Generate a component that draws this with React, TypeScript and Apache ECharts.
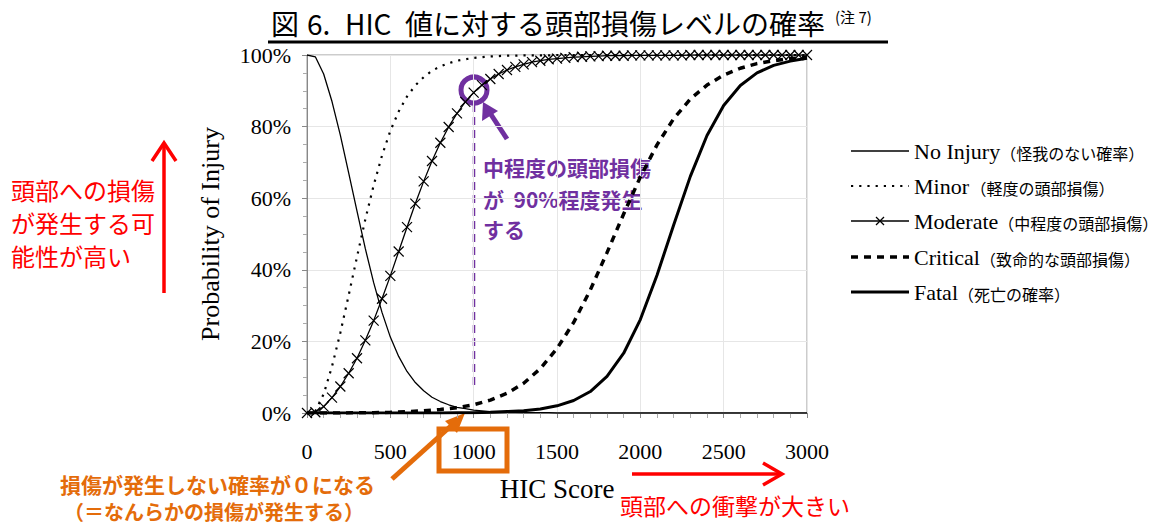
import React, { useEffect, useRef } from "react";
import * as echarts from "echarts";

// HIC score sampling points
const hic50 = [
  0, 50, 100, 150, 200, 250, 300, 350, 400, 450, 500, 550, 600, 650, 700, 750,
  800, 850, 900, 950, 1000, 1050, 1100, 1150, 1200, 1250, 1300, 1350, 1400,
  1450, 1500, 1550, 1600, 1650, 1700, 1750, 1800, 1850, 1900, 1950, 2000, 2050,
  2100, 2150, 2200, 2250, 2300, 2350, 2400, 2450, 2500, 2550, 2600, 2650, 2700,
  2750, 2800, 2850, 2900, 2950, 3000,
];
const hic100 = [
  0, 100, 200, 300, 400, 500, 600, 700, 800, 900, 1000, 1100, 1200, 1300, 1400,
  1500, 1600, 1700, 1800, 1900, 2000, 2100, 2200, 2300, 2400, 2500, 2600, 2700,
  2800, 2900, 3000,
];

// Probability (%)
const noInjury = [
  100, 99.5, 94.7, 87.0, 77.6, 67.1, 56.4, 45.9, 36.4, 28.1, 21.2, 15.8, 11.6,
  8.5, 6.2, 4.4, 3.2, 2.3, 1.6, 1.2, 0.8, 0.6, 0.4, 0.3, 0.2, 0.2, 0.1, 0.1, 0.1,
  0.1, 0, 0, 0, 0, 0, 0, 0, 0, 0, 0, 0, 0, 0, 0, 0, 0, 0, 0, 0, 0, 0, 0, 0, 0,
  0, 0, 0, 0, 0, 0, 0,
];
const minor = [
  0, 0.5, 5.3, 13.0, 22.4, 32.9, 43.6, 54.1, 63.6, 71.9, 78.8, 84.2, 88.4, 91.5,
  93.8, 95.6, 96.8, 97.7, 98.4, 98.8, 99.2, 99.4, 99.6, 99.7, 99.8, 99.8, 99.9,
  99.9, 99.9, 99.9, 100, 100, 100, 100, 100, 100, 100, 100, 100, 100, 100, 100,
  100, 100, 100, 100, 100, 100, 100, 100, 100, 100, 100, 100, 100, 100, 100,
  100, 100, 100, 100,
];
const moderate = [
  0, 0.2, 1.8, 4.3, 7.4, 11.1, 15.3, 20.3, 25.8, 31.9, 38.3, 45.1, 51.9, 58.5,
  64.7, 70.4, 75.5, 79.9, 83.7, 86.9, 89.5, 91.6, 93.3, 94.7, 95.8, 96.7, 97.4,
  98.0, 98.4, 98.8, 99.0, 99.2, 99.4, 99.5, 99.6, 99.7, 99.8, 99.8, 99.8, 99.9,
  99.9, 99.9, 99.9, 99.9, 99.9, 99.9, 100, 100, 100, 100, 100, 100, 100, 100,
  100, 100, 100, 100, 100, 100, 100,
];
const critical = [
  0, 0, 0, 0.1, 0.1, 0.2, 0.4, 0.6, 1.0, 1.5, 2.3, 3.6, 5.5, 8.3, 12.4, 18.0,
  25.3, 34.4, 44.8, 55.6, 65.9, 74.9, 82.2, 87.7, 91.6, 94.4, 96.3, 97.6, 98.4,
  99.0, 99.3,
];
const fatal = [
  0, 0, 0, 0, 0, 0, 0, 0, 0, 0.1, 0.1, 0.2, 0.4, 0.6, 1.1, 2.0, 3.5, 6.0, 10.2,
  16.7, 26.1, 38.5, 52.5, 66.1, 77.5, 85.9, 91.5, 95.0, 97.1, 98.3, 99.1,
];

const legendNames = ["No Injury", "Minor", "Moderate", "Critical", "Fatal"];
const legendNotes = [
  "（怪我のない確率）",
  "（軽度の頭部損傷）",
  "（中程度の頭部損傷）",
  "（致命的な頭部損傷）",
  "（死亡の確率）",
];

const SERIF = "'Liberation Serif', 'Times New Roman', serif";
const CJK = "'Noto Sans CJK JP', sans-serif";
const RED = "#ff0000";
const ORANGE = "#e46c0a";
const PURPLE = "#7030a0";

function pairs(xs: number[], ys: number[]) {
  return xs.map((x, i) => [x, ys[i]]);
}

export default function App() {
  const ref = useRef<HTMLDivElement>(null);

  useEffect(() => {
    if (!ref.current) return;
    const chart = echarts.init(ref.current, null, { renderer: "svg" });

    const legendY = [151, 186, 221, 257, 292];
    const legendGraphics: any[] = [];
    legendY.forEach((y, i) => {
      legendGraphics.push({
        type: "text",
        x: 914,
        y,
        style: {
          text: `{a|${legendNames[i]}}${i === 1 ? "{g| }" : ""}{b|${legendNotes[i]}}`,
          align: "left",
          verticalAlign: "middle",
          rich: {
            a: { fontFamily: SERIF, fontSize: 22, color: "#000", verticalAlign: "middle" },
            g: { fontFamily: SERIF, fontSize: 6, color: "#000", verticalAlign: "middle" },
            b: { fontFamily: CJK, fontSize: 16, color: "#333", verticalAlign: "middle", padding: [3, 0, 0, 0] },
          },
        },
      });
    });
    // legend line samples
    legendGraphics.push(
      { type: "line", shape: { x1: 851, y1: legendY[0], x2: 909, y2: legendY[0] }, style: { stroke: "#000", lineWidth: 1.3 } },
      { type: "line", shape: { x1: 851, y1: legendY[1], x2: 909, y2: legendY[1] }, style: { stroke: "#000", lineWidth: 2.2, lineDash: [2.2, 6] } },
      { type: "line", shape: { x1: 851, y1: legendY[2], x2: 909, y2: legendY[2] }, style: { stroke: "#000", lineWidth: 1.3 } },
      { type: "line", shape: { x1: 876, y1: legendY[2] - 4, x2: 884, y2: legendY[2] + 4 }, style: { stroke: "#000", lineWidth: 1.3 } },
      { type: "line", shape: { x1: 876, y1: legendY[2] + 4, x2: 884, y2: legendY[2] - 4 }, style: { stroke: "#000", lineWidth: 1.3 } },
      { type: "line", shape: { x1: 851, y1: legendY[3], x2: 909, y2: legendY[3] }, style: { stroke: "#000", lineWidth: 3.5, lineDash: [7, 6] } },
      { type: "line", shape: { x1: 851, y1: legendY[4], x2: 909, y2: legendY[4] }, style: { stroke: "#000", lineWidth: 3 } }
    );

    const titleGraphics: any[] = [
      { type: "text", x: 271, y: 23, style: { text: "図", font: `28px ${CJK}`, fill: "#000", align: "left", verticalAlign: "middle" } },
      { type: "text", x: 307, y: 23, style: { text: "6.", font: `28px ${CJK}`, fill: "#000", align: "left", verticalAlign: "middle" } },
      { type: "text", x: 345, y: 23, style: { text: "HIC", font: `28px ${CJK}`, fill: "#000", align: "left", verticalAlign: "middle" } },
      { type: "text", x: 405, y: 23, style: { text: "値に対する頭部損傷レベルの確率", font: `28px ${CJK}`, fill: "#000", align: "left", verticalAlign: "middle" } },
      { type: "text", x: 835, y: 16, style: { text: "(注 7)", font: `15px ${CJK}`, fill: "#000", align: "left", verticalAlign: "middle" } },
      { type: "rect", shape: { x: 268, y: 40.5, width: 620, height: 3 }, style: { fill: "#000" } },
    ];

    const annoGraphics: any[] = [
      // left red annotation
      { type: "text", x: 11, y: 189, style: { text: "頭部への損傷", font: `24px ${CJK}`, fill: RED, align: "left", verticalAlign: "middle" } },
      { type: "text", x: 11, y: 222, style: { text: "が発生する可", font: `24px ${CJK}`, fill: RED, align: "left", verticalAlign: "middle" } },
      { type: "text", x: 11, y: 255, style: { text: "能性が高い", font: `24px ${CJK}`, fill: RED, align: "left", verticalAlign: "middle" } },
      { type: "line", shape: { x1: 164, y1: 293, x2: 164, y2: 144 }, style: { stroke: RED, lineWidth: 3.5 } },
      { type: "polyline", shape: { points: [[152, 161], [164, 143], [176, 161]] }, style: { stroke: RED, lineWidth: 3.5, fill: "none" } },
      // bottom red annotation
      { type: "line", shape: { x1: 632, y1: 474, x2: 781, y2: 474 }, style: { stroke: RED, lineWidth: 3.5 } },
      { type: "polyline", shape: { points: [[763, 463], [782, 474], [763, 485]] }, style: { stroke: RED, lineWidth: 3.5, fill: "none" } },
      { type: "text", x: 620, y: 505, style: { text: "頭部への衝撃が大きい", font: `23px ${CJK}`, fill: RED, align: "left", verticalAlign: "middle" } },
      // orange annotation
      { type: "rect", shape: { x: 439, y: 429, width: 68, height: 42 }, style: { stroke: ORANGE, lineWidth: 5, fill: "none" } },
      { type: "line", shape: { x1: 392, y1: 479, x2: 452, y2: 425 }, style: { stroke: ORANGE, lineWidth: 5 } },
      { type: "polygon", shape: { points: [[465, 413], [445, 421], [457, 433]] }, style: { fill: ORANGE } },
      { type: "text", x: 60, y: 484, style: { text: "損傷が発生しない確率が０になる", font: `bold 21px ${CJK}`, fill: ORANGE, align: "left", verticalAlign: "middle" } },
      { type: "text", x: 64, y: 511, style: { text: "（＝なんらかの損傷が発生する）", font: `bold 20px ${CJK}`, fill: ORANGE, align: "left", verticalAlign: "middle" } },
      // purple annotation
      { type: "line", shape: { x1: 474, y1: 104, x2: 474, y2: 389 }, style: { stroke: PURPLE, lineWidth: 2.5, lineDash: [8, 5] } },
      { type: "circle", shape: { cx: 474, cy: 90, r: 13 }, style: { stroke: PURPLE, lineWidth: 5, fill: "none" } },
      { type: "line", shape: { x1: 507, y1: 139, x2: 490, y2: 113 }, style: { stroke: PURPLE, lineWidth: 5 } },
      { type: "polygon", shape: { points: [[483, 102], [482, 121], [498, 111]] }, style: { fill: PURPLE } },
      { type: "text", x: 483, y: 167, style: { text: "中程度の頭部損傷", font: `bold 21px ${CJK}`, fill: PURPLE, align: "left", verticalAlign: "middle" } },
      { type: "text", x: 483, y: 199, style: { text: "が  90%程度発生", font: `bold 21px ${CJK}`, fill: PURPLE, align: "left", verticalAlign: "middle" } },
      { type: "text", x: 483, y: 229, style: { text: "する", font: `bold 21px ${CJK}`, fill: PURPLE, align: "left", verticalAlign: "middle" } },
    ];

    chart.setOption({
      animation: false,
      backgroundColor: "#fff",
      grid: {
        left: 307,
        top: 55,
        width: 500,
        height: 358,
        show: true,
        borderColor: "#999",
        borderWidth: 1,
      },
      xAxis: {
        type: "value",
        min: 0,
        max: 3000,
        interval: 500,
        name: "HIC Score",
        nameLocation: "middle",
        nameGap: 62,
        nameTextStyle: { fontFamily: SERIF, fontSize: 27, color: "#000" },
        axisLine: { show: true, lineStyle: { color: "#888" } },
        axisTick: { show: true, length: 5, lineStyle: { color: "#888" } },
        minorTick: { show: true, splitNumber: 5, length: 5, lineStyle: { color: "#aaa" } },
        splitLine: { show: true, lineStyle: { color: "#e6e6e6" } },
        axisLabel: {
          fontFamily: SERIF,
          fontSize: 22,
          color: "#000",
          margin: 27,
          formatter: (v: number) => String(v),
        },
      },
      yAxis: {
        type: "value",
        min: 0,
        max: 100,
        interval: 20,
        name: "Probability of Injury",
        nameLocation: "middle",
        nameRotate: 90,
        nameGap: 84,
        nameTextStyle: { fontFamily: SERIF, fontSize: 26, color: "#000" },
        axisLine: { show: true, lineStyle: { color: "#888" } },
        axisTick: { show: true, length: 5, lineStyle: { color: "#888" } },
        minorTick: { show: true, splitNumber: 4, length: 4, lineStyle: { color: "#aaa" } },
        splitLine: { show: true, lineStyle: { color: "#e6e6e6" } },
        axisLabel: {
          fontFamily: SERIF,
          fontSize: 22,
          color: "#000",
          margin: 16,
          formatter: "{value}%",
        },
      },
      series: [
        {
          name: "No Injury",
          type: "line",
          data: pairs(hic50, noInjury),
          showSymbol: false,
          symbol: "none",
          lineStyle: { color: "#000", width: 1.3 },
        },
        {
          name: "Minor",
          type: "line",
          data: pairs(hic50, minor),
          showSymbol: false,
          symbol: "none",
          lineStyle: { color: "#000", width: 2.2, type: [2.2, 6] },
        },
        {
          name: "Moderate",
          type: "line",
          data: pairs(hic50, moderate),
          symbol: "path://M0,0L10,10M10,0L0,10",
          symbolSize: 10,
          showAllSymbol: true,
          itemStyle: { color: "#000", borderColor: "#000", borderWidth: 1.2 },
          lineStyle: { color: "#000", width: 1.3 },
        },
        {
          name: "Critical",
          type: "line",
          data: pairs(hic100, critical),
          showSymbol: false,
          symbol: "none",
          lineStyle: { color: "#000", width: 3.5, type: [7, 6] },
        },
        {
          name: "Fatal",
          type: "line",
          data: pairs(hic100, fatal),
          showSymbol: false,
          symbol: "none",
          lineStyle: { color: "#000", width: 3 },
        },
      ],
      graphic: [...titleGraphics, ...legendGraphics, ...annoGraphics],
    });

    return () => chart.dispose();
  }, []);

  return (
    <div
      ref={ref}
      style={{ position: "absolute", left: 0, top: 0, width: 1170, height: 524 }}
    />
  );
}
